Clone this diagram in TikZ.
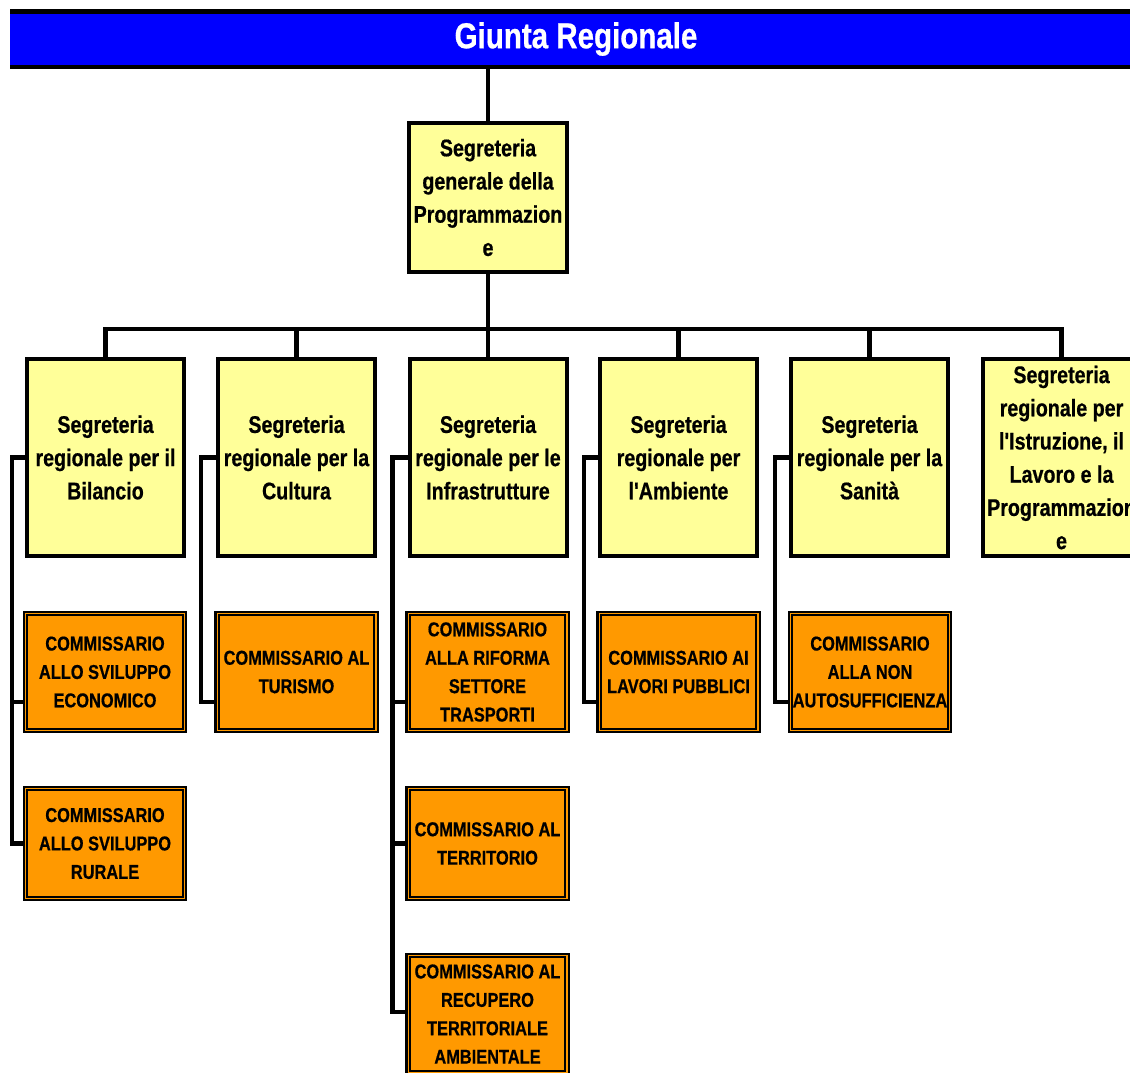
\documentclass[tikz,border=0pt]{standalone}
\usepackage{fontspec}
\newfontfamily\narrowbold{Liberation Sans}[FakeStretch=0.82, FakeBold=0.6]
\usetikzlibrary{backgrounds}
\definecolor{officefill}{HTML}{FFFF99}
\definecolor{commfill}{HTML}{FF9900}
\definecolor{bannerfill}{HTML}{0000FF}
\begin{document}
\begin{tikzpicture}[x=1pt,y=-1pt,
  line join=miter,
  link/.style={draw=black, line width=4.5pt},
  banner/.style={fill=bannerfill, text=white, minimum width=1132pt, minimum height=60pt,
    inner sep=0pt, outer sep=0pt, font=\narrowbold\bfseries\fontsize{36}{40}\selectfont},
  office/.style={draw=black, line width=4pt, fill=officefill, minimum width=157pt,
    minimum height=197pt, inner sep=0pt, outer sep=0pt, align=center,
    font=\narrowbold\bfseries\fontsize{24}{33.2}\selectfont},
  general/.style={office, minimum width=158pt, minimum height=149pt},
  commbox/.style={draw=black, double=commfill, double distance=1.2pt, line width=2.2pt,
    fill=commfill, minimum width=158.8pt, minimum height=116.8pt, inner sep=0pt,
    outer sep=0pt, align=center, font=\narrowbold\bfseries\fontsize{20}{28.4}\selectfont},
  commshort/.style={commbox, minimum height=109.8pt}
]
\useasboundingbox (0,0) rectangle (1130,1072);

% header band
\node[banner] (giunta) at (576,39) {Giunta Regionale};
\draw[line width=4.5pt] ([yshift=-2.25pt]giunta.north west) -- ([yshift=-2.25pt]giunta.north east);
\draw[line width=4.5pt] ([yshift=2.25pt]giunta.south west) -- ([yshift=2.25pt]giunta.south east);

% general secretariat
\node[general] (top) at (488,197.5) {Segreteria\\generale della\\Programmazion\\e};

% regional secretariats
\node[office] (b1) at (105.5,457.5) {Segreteria\\regionale per il\\Bilancio};
\node[office] (b2) at (296.5,457.5) {Segreteria\\regionale per la\\Cultura};
\node[office] (b3) at (488,457.5) {Segreteria\\regionale per le\\Infrastrutture};
\node[office] (b4) at (678.5,457.5) {Segreteria\\regionale per\\l'Ambiente};
\node[office] (b5) at (869.5,457.5) {Segreteria\\regionale per la\\Sanità};
\node[office] (b6) at (1061.5,457.5) {Segreteria\\regionale per\\l'Istruzione, il\\Lavoro e la\\Programmazion\\e};

% commissioners
\node[commbox] (c11) at (105,672) {COMMISSARIO\\ALLO SVILUPPO\\ECONOMICO};
\node[commshort] (c12) at (105,843.5) {COMMISSARIO\\ALLO SVILUPPO\\RURALE};
\node[commbox] (c21) at (296.5,672) {COMMISSARIO AL\\TURISMO};
\node[commbox] (c31) at (487.5,672) {COMMISSARIO\\ALLA RIFORMA\\SETTORE\\TRASPORTI};
\node[commshort] (c32) at (487.5,843.5) {COMMISSARIO AL\\TERRITORIO};
\node[commbox] (c33) at (487.5,1014) {COMMISSARIO AL\\RECUPERO\\TERRITORIALE\\AMBIENTALE};
\node[commbox] (c41) at (678.5,672) {COMMISSARIO AI\\LAVORI PUBBLICI};
\node[commbox] (c51) at (870,672) {COMMISSARIO\\ALLA NON\\AUTOSUFFICIENZA};

\begin{scope}[on background layer]
  % main hierarchy
  \draw[link] (giunta.south -| top.north) -- (top.north);
  \coordinate (bus) at (488,329);
  \draw[link] (top.south) -- (bus);
  \foreach \i in {1,...,6} {
    \draw[link] (bus) -| (b\i.north);
  }
  % side rails to the commissioners
  \path (b1.west) ++(-15,0) coordinate (v1);
  \path (b2.west) ++(-17,0) coordinate (v2);
  \path (b3.west) ++(-17,0) coordinate (v3);
  \path (b4.west) ++(-16,0) coordinate (v4);
  \path (b5.west) ++(-16,0) coordinate (v5);
  \draw[link] (b1.west) -- (v1) |- (c12.west);
  \draw[link] (v1) |- ([yshift=-30pt]c11.west);
  \draw[link] (b2.west) -- (v2) |- ([yshift=-30pt]c21.west);
  \draw[link] (b3.west) -- (v3) |- ([yshift=2pt]c33.west);
  \draw[link] (v3) |- (c32.west);
  \draw[link] (v3) |- ([yshift=-30pt]c31.west);
  \draw[link] (b4.west) -- (v4) |- ([yshift=-30pt]c41.west);
  \draw[link] (b5.west) -- (v5) |- ([yshift=-30pt]c51.west);
\end{scope}
\end{tikzpicture}
\end{document}
